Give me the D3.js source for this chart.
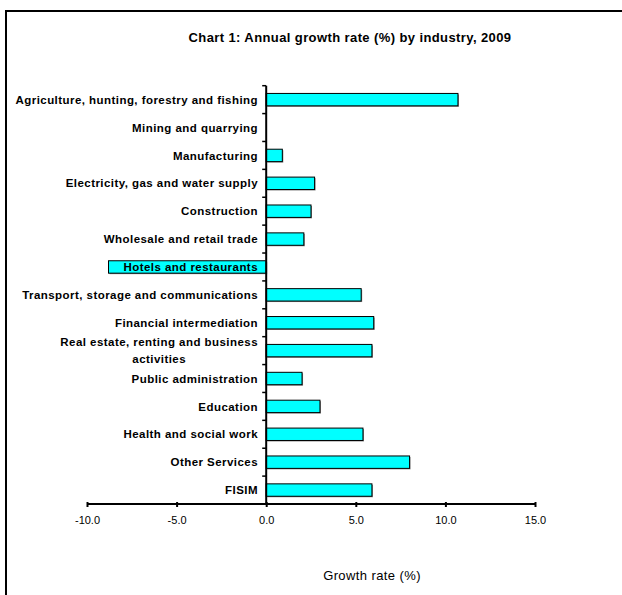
<!DOCTYPE html>
<html>
<head>
<meta charset="utf-8">
<script src="https://cdn.jsdelivr.net/npm/d3@7"></script>
<style>
  html, body { margin: 0; padding: 0; background: #fff; }
  svg { display: block; }
  text { font-family: "Liberation Sans", Arial, sans-serif; fill: #000; }
</style>
</head>
<body>
<svg id="chart" width="622" height="595"></svg>
<script>
// Industries, top to bottom, and their 2009 growth rates (%)
const industries = [
  "Agriculture, hunting, forestry and fishing",
  "Mining and quarrying",
  "Manufacturing",
  "Electricity, gas and water supply",
  "Construction",
  "Wholesale and retail trade",
  "Hotels and restaurants",
  "Transport, storage and communications",
  "Financial intermediation",
  "Real estate, renting and business activities",
  "Public administration",
  "Education",
  "Health and social work",
  "Other Services",
  "FISIM"
];
const growth = [10.7, 0.0, 0.9, 2.7, 2.5, 2.1, -8.8, 5.3, 6.0, 5.9, 2.0, 3.0, 5.4, 8.0, 5.9];

// Labels split over lines where the category name wraps
const labelLines = [
  ["Agriculture, hunting, forestry and fishing"],
  ["Mining and quarrying"],
  ["Manufacturing"],
  ["Electricity, gas and water supply"],
  ["Construction"],
  ["Wholesale and retail trade"],
  ["Hotels and restaurants"],
  ["Transport, storage and communications"],
  ["Financial intermediation"],
  ["Real estate, renting and business", "activities"],
  ["Public administration"],
  ["Education"],
  ["Health and social work"],
  ["Other Services"],
  ["FISIM"]
];

const xTicks = [-10, -5, 0, 5, 10, 15];
const titleText = "Chart 1: Annual growth rate (%) by industry, 2009";
const xTitle = "Growth rate (%)";

const data = industries.map((name, i) => ({ name, value: growth[i], lines: labelLines[i] }));

const svg = d3.select("#chart");

// Outer frame (only its top and left edges fall inside the page)
svg.append("rect")
  .attr("x", 6).attr("y", 11)
  .attr("width", 800).attr("height", 800)
  .attr("fill", "none").attr("stroke", "#000").attr("stroke-width", 2);

const x = d3.scaleLinear().domain([-10, 15]).range([87, 535]);
const plotTop = 85.7, plotBottom = 504;

// Category cells (for ticks and labels) and bars within them
const yCell = d3.scaleBand().domain(industries).range([plotTop, plotBottom]).padding(0);
const barPad = 0.555;
const yBar = d3.scaleBand().domain(industries).range([plotTop, plotBottom])
  .paddingInner(barPad).paddingOuter(barPad / 2);

// Title
svg.append("text")
  .attr("x", 350).attr("y", 42)
  .attr("text-anchor", "middle")
  .style("font-size", "13px").style("font-weight", "bold")
  .style("letter-spacing", "0.4px")
  .text(titleText);

// Bars with a soft grey drop edge
const bars = svg.append("g");
bars.selectAll("rect.shadow")
  .data(data.filter(d => d.value !== 0))
  .join("rect")
  .attr("class", "shadow")
  .attr("x", d => Math.min(x(0), x(d.value)) + 1)
  .attr("y", d => yBar(d.name) + 1)
  .attr("width", d => Math.abs(x(d.value) - x(0)))
  .attr("height", yBar.bandwidth())
  .attr("fill", "#8a8a8a");
bars.selectAll("rect.bar")
  .data(data.filter(d => d.value !== 0))
  .join("rect")
  .attr("class", "bar")
  .attr("x", d => Math.min(x(0), x(d.value)))
  .attr("y", d => yBar(d.name))
  .attr("width", d => Math.abs(x(d.value) - x(0)))
  .attr("height", yBar.bandwidth())
  .attr("fill", "#00FFFF")
  .attr("stroke", "#000").attr("stroke-width", 1);

// Category labels, right-aligned next to the zero line
const labelRight = 258;
const labels = svg.append("g")
  .style("font-size", "11.5px").style("font-weight", "bold")
  .style("letter-spacing", "0.45px");
data.forEach(d => {
  const cy = yCell(d.name) + yCell.bandwidth() / 2;
  const lh = 17;
  const n = d.lines.length;
  if (n === 1) {
    labels.append("text")
      .attr("x", labelRight).attr("y", cy)
      .attr("dy", "0.36em")
      .attr("text-anchor", "end")
      .text(d.lines[0]);
  } else {
    // Multi-line label: lines centred on each other, block right-aligned
    const g = labels.append("g");
    const texts = d.lines.map((ln, j) => g.append("text")
      .attr("y", cy + (j - (n - 1) / 2) * lh)
      .attr("dy", "0.36em")
      .attr("text-anchor", "middle")
      .text(ln));
    const w = d3.max(texts, t => t.node().getComputedTextLength());
    texts.forEach(t => t.attr("x", labelRight - w / 2));
  }
});

// Vertical category axis at zero
const yAxisG = svg.append("g");
yAxisG.append("line")
  .attr("x1", x(0)).attr("x2", x(0))
  .attr("y1", plotTop).attr("y2", plotBottom)
  .attr("stroke", "#000").attr("stroke-width", 2);
const boundaries = industries.map(c => yCell(c));
yAxisG.selectAll("line.tick")
  .data(boundaries)
  .join("line")
  .attr("class", "tick")
  .attr("x1", x(0) - 4).attr("x2", x(0))
  .attr("y1", d => d).attr("y2", d => d)
  .attr("stroke", "#000").attr("stroke-width", 1.5);

// Horizontal value axis; labels use a plain hyphen for negatives
const fmt = d3.format(".1f");
const xAxis = d3.axisBottom(x)
  .tickValues(xTicks)
  .tickFormat(d => fmt(d).replace("\u2212", "-"))
  .tickSize(4)
  .tickPadding(8);
const xAxisG = svg.append("g")
  .attr("transform", `translate(0,${plotBottom})`)
  .call(xAxis);
xAxisG.select(".domain")
  .attr("d", `M${x(-10)},0H${x(15)}`)
  .attr("stroke", "#000").attr("stroke-width", 2);
xAxisG.selectAll(".tick line")
  .attr("y1", -2).attr("y2", 3)
  .attr("stroke", "#000").attr("stroke-width", 2);
xAxisG.selectAll(".tick text")
  .style("font-family", "'Liberation Sans', Arial, sans-serif")
  .style("font-size", "11px")
  .attr("fill", "#000");

// Axis title
svg.append("text")
  .attr("x", 372).attr("y", 580)
  .attr("text-anchor", "middle")
  .style("font-size", "13px")
  .style("letter-spacing", "0.4px")
  .text(xTitle);
</script>
</body>
</html>
